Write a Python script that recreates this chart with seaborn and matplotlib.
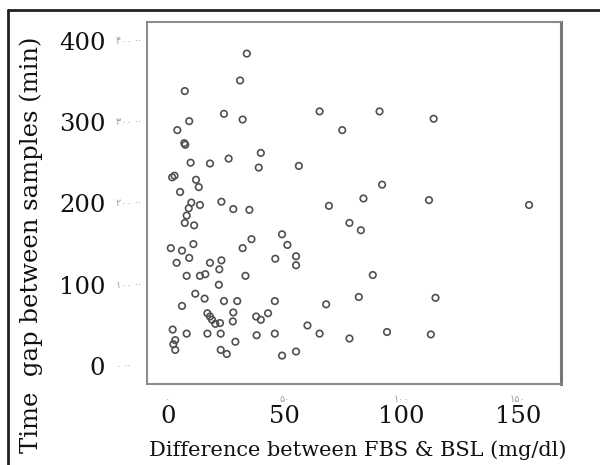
import numpy as np
import pandas as pd
import matplotlib.pyplot as plt
import seaborn as sns
from matplotlib.lines import Line2D

# difference between FBS and BSL (mg/dl) and time gap (min)
diff_mgdl = [33.8, 30.9, 7.2, 24, 32, 9.1, 4, 7.0, 7.4, 39.8,
             9.7, 18, 26, 38.9, 1.8, 2.8, 12, 13.2, 5.2, 10,
             13.7, 22.9, 28, 34.9, 8.9, 8, 7.2, 11.2, 48.9, 35.8,
             1.2, 6, 10.9, 32, 51.2, 9.1, 3.7, 18, 22.9, 46,
             22, 8, 13.7, 16, 33.2, 21.8, 11.7, 15.7, 6, 24,
             29.7, 45.8, 16.9, 18, 18.9, 20.3, 22.3, 28, 27.8, 37.8,
             39.8, 42.9, 2, 8, 16.9, 22.6, 38, 45.8, 28.9, 3.1,
             2.3, 3.1, 22.6, 25.2, 48.9, 65, 90.7, 74.7, 56.1, 113.9,
             91.8, 83.8, 69, 77.8, 82.7, 54.9, 111.9, 154.8, 54.9, 87.8,
             81.8, 67.8, 59.8, 65, 77.8, 93.9, 112.7, 54.9, 114.7]
gap_min = [384, 351, 338, 310, 303, 301, 290, 274, 272, 262,
           250, 249, 255, 244, 232, 234, 229, 220, 214, 201,
           198, 202, 193, 192, 194, 185, 176, 173, 162, 156,
           145, 142, 150, 145, 149, 133, 127, 127, 130, 132,
           119, 111, 111, 113, 111, 100, 89, 83, 74, 80,
           80, 80, 65, 61, 57, 52, 53, 66, 55, 61,
           57, 65, 45, 40, 40, 40, 38, 40, 30, 32,
           27, 20, 20, 15, 13, 313, 313, 290, 246, 304,
           223, 206, 197, 176, 167, 135, 204, 198, 124, 112,
           85, 76, 50, 40, 34, 42, 39, 18, 84]

x_ticks = [0, 50, 100, 150]
y_ticks = [0, 100, 200, 300, 400]
x_fa = ['۰', '۵۰', '۱۰۰', '۱۵۰']
y_fa = ['۰', '۱۰۰', '۲۰۰', '۳۰۰', '۴۰۰']

df = pd.DataFrame({'diff': diff_mgdl, 'gap': gap_min})

sns.set_style('white')
plt.rcParams['font.family'] = ['DejaVu Serif', 'DejaVu Sans']

fig = plt.figure(figsize=(6, 4.65), dpi=100)
ax = fig.add_axes([0.245, 0.174, 0.69, 0.779])

sns.scatterplot(data=df, x='diff', y='gap', ax=ax, marker='o', s=22,
                facecolor='none', edgecolor='#505050', linewidth=1.2)

ax.set_xlim(-9, 168.5)
ax.set_ylim(-22, 423)
ax.set_xticks(x_ticks)
ax.set_yticks(y_ticks)
ax.set_xticklabels([str(t) for t in x_ticks])
ax.set_yticklabels([str(t) for t in y_ticks])
ax.set_xlabel('')
ax.set_ylabel('')

for s in ax.spines.values():
    s.set_color('#8c8c8c')
    s.set_linewidth(1.5)
ax.spines['right'].set_color('#777777')
ax.spines['right'].set_linewidth(2.2)

ax.tick_params(axis='both', direction='out', length=5, width=1, color='#999999',
               labelsize=17.5, labelcolor='#111111')
ax.tick_params(axis='y', pad=25)
ax.tick_params(axis='x', pad=10)

# faint persian tick numbers from the original print
for t, lab in zip(y_ticks, y_fa):
    ax.text(-0.075, t, lab + ' ··', transform=ax.get_yaxis_transform(),
            ha='left', va='center', fontsize=7, color='#a0a0a0',
            family=['DejaVu Sans'])
for t, lab in zip(x_ticks, x_fa):
    ax.text(t, -0.04, lab, transform=ax.get_xaxis_transform(),
            ha='center', va='center', fontsize=7, color='#a0a0a0',
            family=['DejaVu Sans'])

fig.text(0.596, 0.032, 'Difference between FBS & BSL (mg/dl)',
         ha='center', va='center', fontsize=15, color='#111111')
fig.text(0.052, 0.474, 'Time  gap between samples (min)', rotation=90,
         ha='center', va='center', fontsize=17.5, color='#111111')

# outer frame of the scanned figure
fig.add_artist(Line2D([8 / 600, 8 / 600], [0, 1 - 10 / 465], color='#222222',
                      lw=2, transform=fig.transFigure))
fig.add_artist(Line2D([8 / 600, 1], [1 - 10 / 465, 1 - 10 / 465], color='#222222',
                      lw=2, transform=fig.transFigure))

fig.savefig('out.png', dpi=100)
